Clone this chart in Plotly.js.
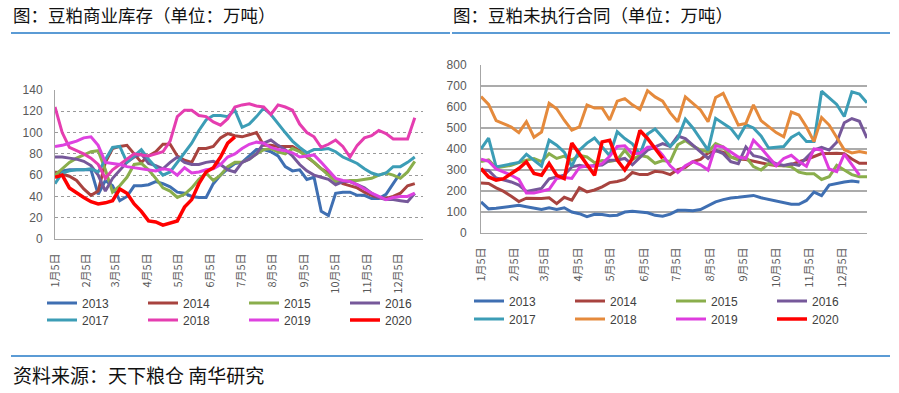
<!DOCTYPE html>
<html>
<head>
<meta charset="utf-8">
<script src="https://cdn.plot.ly/plotly-3.0.1.min.js"></script>
<style>html,body{margin:0;padding:0;background:#fff;}#chart{width:899px;height:393px;}</style>
</head>
<body>
<div id="chart"></div>
<script>
// weekly dates (dummy year)
const weeks = ["2019-01-05","2019-01-12","2019-01-19","2019-01-26","2019-02-02","2019-02-09","2019-02-16","2019-02-23",
"2019-03-02","2019-03-09","2019-03-16","2019-03-23","2019-03-30","2019-04-06","2019-04-13","2019-04-20","2019-04-27",
"2019-05-04","2019-05-11","2019-05-18","2019-05-25","2019-06-01","2019-06-08","2019-06-15","2019-06-22","2019-06-29",
"2019-07-06","2019-07-13","2019-07-20","2019-07-27","2019-08-03","2019-08-10","2019-08-17","2019-08-24","2019-08-31",
"2019-09-07","2019-09-14","2019-09-21","2019-09-28","2019-10-05","2019-10-12","2019-10-19","2019-10-26",
"2019-11-02","2019-11-09","2019-11-16","2019-11-23","2019-11-30","2019-12-07","2019-12-14","2019-12-21","2019-12-28"];
const tickDates = ["2019-01-05","2019-02-05","2019-03-05","2019-04-05","2019-05-05","2019-06-05","2019-07-05","2019-08-05","2019-09-05","2019-10-05","2019-11-05","2019-12-05"];
const tickLabels = ["1月5日","2月5日","3月5日","4月5日","5月5日","6月5日","7月5日","8月5日","9月5日","10月5日","11月5日","12月5日"];
const years = ["2013","2014","2015","2016","2017","2018","2019","2020"];

// 豆粕商业库存 (万吨)
const inv2013 = [62,64,65,65,65,65,42,55,50,36,40,50,50,51,54,52,49,44,43,40,39,39,52,60,66,71,72,78,84,84,82,78,68,64,65,56,58,26,22,43,44,44,41,41,38,38,42,52,62];
const inv2014 = [63,61,59,55,47,41,45,72,85,87,88,80,72,78,82,89,89,78,74,72,85,85,87,95,99,97,96,98,100,88,88,87,87,87,83,77,72,66,62,56,52,50,48,44,41,39,38,40,43,50,52];
const inv2015 = [60,66,72,76,79,82,83,65,44,50,58,70,71,65,57,48,45,39,42,48,56,62,55,60,68,72,72,75,80,84,85,82,80,85,82,78,72,66,60,54,54,55,55,56,57,60,62,60,57,63,73];
const inv2016 = [77,77,76,75,73,69,60,45,57,65,72,77,80,71,69,66,72,77,72,70,70,72,73,70,65,63,72,75,80,90,93,88,84,78,70,64,60,58,56,51,54,54,51,48,43,39,37,37,36,35,43];
const inv2017 = [52,62,64,65,65,66,63,75,86,87,72,78,84,75,67,60,63,72,80,90,102,112,116,116,115,121,105,108,115,123,117,108,100,92,86,81,84,84,85,82,77,74,71,66,62,60,62,68,68,72,77];
const inv2018 = [124,100,86,83,80,76,70,57,65,70,75,80,79,78,80,82,92,115,121,121,116,115,110,107,113,124,126,127,125,124,117,126,124,121,108,100,96,86,89,93,87,77,88,95,97,102,99,94,94,94,114];
const inv2019 = [87,88,90,92,95,96,88,72,71,70,68,67,66,65,64,66,65,60,67,62,63,65,66,70,77,80,85,89,91,90,86,84,83,81,77,78,79,72,64,57,55,54,51,47,43,40,37,39,40,40,43];
const inv2020 = [58,60,48,43,39,35,33,34,36,47,43,33,26,17,16,13,15,17,30,37,52,63,67,77,90,96];

// 豆粕未执行合同 (万吨)
const con2013 = [148,115,118,122,128,132,125,118,112,120,112,120,100,92,78,89,88,82,85,100,104,100,96,84,80,90,108,108,106,112,132,148,159,167,170,174,179,168,160,154,146,137,137,155,195,178,228,236,243,248,243];
const con2014 = [238,236,215,198,175,150,166,164,164,168,140,170,156,215,196,205,220,240,245,255,288,278,278,294,290,278,302,312,340,350,380,392,385,362,352,350,342,335,326,322,320,325,340,350,365,378,378,380,378,352,332,332];
const con2015 = [340,348,310,315,322,335,347,355,340,378,355,366,347,370,362,335,345,340,348,394,350,370,362,332,345,340,420,440,415,395,386,426,410,362,348,362,316,300,330,325,320,315,290,282,282,255,268,322,300,278,268,268];
const con2016 = [300,298,262,252,243,228,198,205,212,258,268,275,315,322,316,322,324,347,348,355,325,362,395,410,426,412,462,450,418,386,355,394,378,340,330,410,368,360,345,330,322,330,322,360,395,408,395,432,525,545,532,452];
const con2017 = [400,452,315,322,328,336,375,345,318,442,418,385,318,395,428,452,412,368,482,450,425,375,472,495,455,412,450,542,500,450,395,546,524,498,452,516,500,462,405,408,412,455,476,436,436,675,645,612,555,672,662,620];
const con2018 = [650,612,535,520,505,478,530,456,481,618,592,537,490,505,610,595,595,538,628,640,610,588,678,648,628,572,530,648,618,586,530,645,665,586,514,522,610,535,505,478,458,576,562,505,435,550,514,455,396,381,388,381];
const con2019 = [352,342,305,290,275,255,190,190,198,208,260,264,260,312,320,318,330,365,412,415,378,380,408,410,370,320,288,320,340,325,300,415,410,385,362,355,442,405,360,320,355,370,340,318,400,395,305,292,376,324,276];
const con2020 = [307,267,252,259,283,307,339,283,275,331,275,259,428,378,323,275,434,442,347,300,355,488,450,402,355];

const leftColors = ['#3F6FB2','#A8433F','#8AAE4C','#76589A','#3C9DB6','#E53DB0','#DE42E0','#FF0000'];
const rightColors = ['#3F6FB2','#A8433F','#8AAE4C','#76589A','#3C9DB6','#E58A3C','#DE3CDE','#FF0000'];
const invSeries = [inv2013,inv2014,inv2015,inv2016,inv2017,inv2018,inv2019,inv2020];
const conSeries = [con2013,con2014,con2015,con2016,con2017,con2018,con2019,con2020];

const W = 899, H = 393;
const px = v => v / W;
const py = v => 1 - v / H;

const traces = [];
invSeries.forEach((arr, i) => {
  traces.push({
    x: weeks.slice(0, arr.length), y: arr, name: years[i], type: 'scatter', mode: 'lines',
    xaxis: 'x', yaxis: 'y', legend: i < 4 ? 'legend' : 'legend2',
    line: {color: leftColors[i], width: i === 7 ? 3.5 : 3}, hoverinfo: 'skip'
  });
});
conSeries.forEach((arr, i) => {
  traces.push({
    x: weeks.slice(0, arr.length), y: arr, name: years[i], type: 'scatter', mode: 'lines',
    xaxis: 'x2', yaxis: 'y2', legend: i < 4 ? 'legend3' : 'legend4',
    line: {color: rightColors[i], width: i === 7 ? 3.5 : 3}, hoverinfo: 'skip'
  });
});

const tickFontX = {family: 'Noto Sans CJK SC, sans-serif', size: 11, color: '#595959'};
const tickFontY = {family: 'Liberation Sans, Arial, sans-serif', size: 12, color: '#595959'};
const legFont = {family: 'Liberation Sans, Arial, sans-serif', size: 12, color: '#404040'};

function xAxis(dom, anchor, end) {
  return {
    type: 'date', domain: dom, anchor: anchor, range: ['2019-01-05', end],
    tickmode: 'array', tickvals: tickDates, ticktext: tickLabels, tickangle: -90,
    tickfont: tickFontX, showgrid: false, zeroline: false, showline: true,
    linecolor: '#a6a6a6', linewidth: 1, ticks: '', ticklabelstandoff: 9, automargin: false, fixedrange: true
  };
}
function legend(x, y) {
  return {
    x: px(x), y: py(y), xanchor: 'left', yanchor: 'middle', orientation: 'h',
    entrywidth: 56, entrywidthmode: 'pixels', font: legFont, bgcolor: 'rgba(0,0,0,0)',
    borderwidth: 0, itemwidth: 30, traceorder: 'normal', itemclick: false, itemdoubleclick: false
  };
}

const blue = '#5B9BD5';
const layout = {
  width: W, height: H, margin: {l: 0, r: 0, t: 0, b: 0, pad: 0},
  paper_bgcolor: '#ffffff', plot_bgcolor: '#ffffff', showlegend: true,
  xaxis: xAxis([px(55), px(423)], 'y', '2019-12-29'),
  yaxis: {
    domain: [py(239), py(90)], anchor: 'x', range: [0, 140], tickmode: 'linear', tick0: 0, dtick: 20,
    gridcolor: '#9a9a9a', griddash: 'dot', gridwidth: 1, zeroline: false, showline: true,
    linecolor: '#a6a6a6', linewidth: 1, ticks: '', tickfont: tickFontY, ticklabelstandoff: 9,
    automargin: false, fixedrange: true
  },
  xaxis2: xAxis([px(481), px(867)], 'y2', '2019-12-28'),
  yaxis2: {
    domain: [py(233), py(65)], anchor: 'x2', range: [0, 800], tickmode: 'linear', tick0: 0, dtick: 100,
    gridcolor: '#ababab', gridwidth: 1.4, zeroline: false, showline: true,
    linecolor: '#a6a6a6', linewidth: 1, ticks: '', tickfont: tickFontY, ticklabelstandoff: 11,
    automargin: false, fixedrange: true
  },
  legend: legend(42, 303),
  legend2: legend(42, 320),
  legend3: legend(469, 301),
  legend4: legend(469, 319),
  annotations: [
    {text: '图：豆粕商业库存（单位：万吨）', xref: 'paper', yref: 'paper', x: px(11), y: py(15), xanchor: 'left', yanchor: 'middle',
     showarrow: false, font: {family: 'Noto Sans CJK SC, sans-serif', size: 17.5, color: '#111111'}},
    {text: '图：豆粕未执行合同（单位：万吨）', xref: 'paper', yref: 'paper', x: px(451), y: py(15), xanchor: 'left', yanchor: 'middle',
     showarrow: false, font: {family: 'Noto Sans CJK SC, sans-serif', size: 17.5, color: '#111111'}},
    {text: '资料来源：天下粮仓 南华研究', xref: 'paper', yref: 'paper', x: px(11), y: py(374), xanchor: 'left', yanchor: 'middle',
     showarrow: false, font: {family: 'Noto Sans CJK SC, sans-serif', size: 19, color: '#111111'}}
  ],
  shapes: [
    {type: 'line', xref: 'paper', yref: 'paper', x0: px(11), x1: px(450), y0: py(33), y1: py(33), line: {color: blue, width: 2}},
    {type: 'line', xref: 'paper', yref: 'paper', x0: px(452), x1: px(890), y0: py(33), y1: py(33), line: {color: blue, width: 2}},
    {type: 'line', xref: 'paper', yref: 'paper', x0: px(11), x1: px(890), y0: py(356), y1: py(356), line: {color: blue, width: 2}}
  ]
};

Plotly.newPlot('chart', traces, layout, {displayModeBar: false, staticPlot: true});
</script>
</body>
</html>
